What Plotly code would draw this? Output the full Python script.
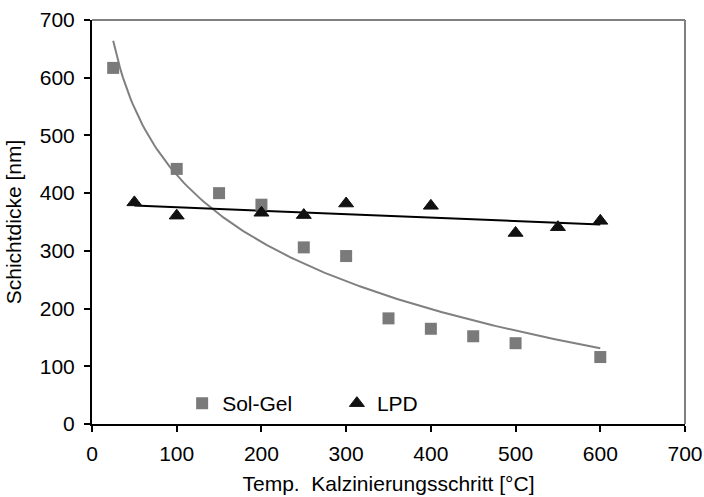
import numpy as np
import plotly.graph_objects as go

# Data
solgel_x = [25, 100, 150, 200, 250, 300, 350, 400, 450, 500, 600]
solgel_y = [617, 442, 400, 380, 306, 291, 183, 165, 152, 140, 116]
lpd_x = [50, 100, 200, 250, 300, 400, 500, 550, 600]
lpd_y = [384, 361, 366, 362, 382, 378, 331, 341, 352]

x_title = "Temp.  Kalzinierungsschritt [°C]"
y_title = "Schichtdicke [nm]"

# Trend lines (as in the spreadsheet): logarithmic for Sol-Gel, linear for LPD
b_log, a_log = np.polyfit(np.log(solgel_x), solgel_y, 1)
xs_log = np.linspace(min(solgel_x), max(solgel_x), 200)
ys_log = a_log + b_log * np.log(xs_log)

m_lin, c_lin = np.polyfit(lpd_x, lpd_y, 1)
xs_lin = np.array([min(lpd_x), max(lpd_x)])
ys_lin = c_lin + m_lin * xs_lin

FONT = "Liberation Sans, Arial, sans-serif"
GREY = "#7a7a7a"

fig = go.Figure()
fig.add_trace(go.Scatter(x=xs_log, y=ys_log, mode="lines",
                         line=dict(color="#808080", width=2),
                         showlegend=False, hoverinfo="skip"))
fig.add_trace(go.Scatter(x=xs_lin, y=ys_lin, mode="lines",
                         line=dict(color="#000000", width=2),
                         showlegend=False, hoverinfo="skip"))
fig.add_trace(go.Scatter(x=solgel_x, y=solgel_y, mode="markers", name="Sol-Gel",
                         marker=dict(symbol="square", size=12, color=GREY),
                         legend="legend"))
fig.add_trace(go.Scatter(x=lpd_x, y=lpd_y, mode="markers", name="LPD",
                         marker=dict(symbol="triangle-up", size=13, color="#111111",
                                     line=dict(color="#111111", width=1)),
                         legend="legend2"))

axis_common = dict(
    showgrid=False, zeroline=False, showline=True, linecolor="#000000", linewidth=2,
    ticks="outside", ticklen=6, tickwidth=2, tickcolor="#000000", automargin=False,
    tickfont=dict(family=FONT, size=21, color="#000000"),
    title_font=dict(family=FONT, size=21, color="#000000"),
)

fig.update_layout(
    width=704, height=497,
    margin=dict(l=92, r=19, t=20, b=73),
    paper_bgcolor="white", plot_bgcolor="white",
    font=dict(family=FONT, size=21, color="#000000"),
    xaxis=dict(range=[0, 700], tickvals=list(range(0, 701, 100)),
               ticklabelstandoff=4,
               title=dict(text=x_title, standoff=12), **axis_common),
    yaxis=dict(range=[0, 700], tickvals=list(range(0, 701, 100)),
               ticklabelstandoff=5,
               title=dict(text=y_title, standoff=12), **axis_common),
    legend=dict(x=0.152, y=0.0, xanchor="left", yanchor="bottom",
                bgcolor="rgba(0,0,0,0)", font=dict(family=FONT, size=21),
                itemwidth=30),
    legend2=dict(x=0.413, y=0.0, xanchor="left", yanchor="bottom",
                 bgcolor="rgba(0,0,0,0)", font=dict(family=FONT, size=21),
                 itemwidth=30),
    shapes=[
        dict(type="line", xref="x domain", yref="y domain", x0=0, x1=1, y0=1, y1=1,
             line=dict(color="#808080", width=2)),
        dict(type="line", xref="x domain", yref="y domain", x0=1, x1=1, y0=0, y1=1,
             line=dict(color="#808080", width=2)),
    ],
)

fig.write_html("out.html")
